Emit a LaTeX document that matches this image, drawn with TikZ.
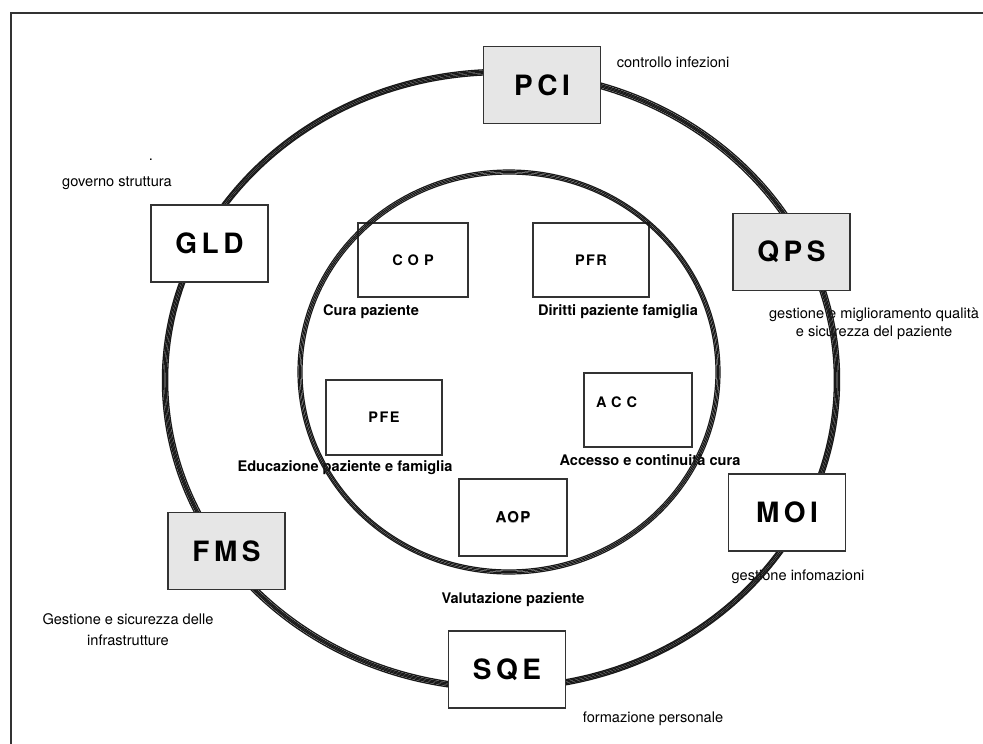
\documentclass[tikz,border=0pt]{standalone}
\usepackage{fontspec}
\setmainfont{TeX Gyre Heros}
\newfontfamily\bigfont[LetterSpace=16]{TeX Gyre Heros}
\newfontfamily\wideletters[LetterSpace=35]{TeX Gyre Heros}
\newfontfamily\narrowletters[LetterSpace=10]{TeX Gyre Heros}
\newcommand{\shadowed}[1]{\makebox[0pt][l]{\raisebox{-1.6pt}{\textcolor{black!30}{#1}}}#1}
\definecolor{boxgrey}{HTML}{E6E6E6}
\definecolor{framegrey}{HTML}{333333}

\begin{document}
\begin{tikzpicture}[x=1pt, y=-1pt,
  bigbox/.style={draw=framegrey, line width=1.2pt, fill=white, minimum width=117pt, minimum height=77pt, inner sep=0pt, font=\bigfont\bfseries\fontsize{28}{30}\selectfont},
  greybox/.style={bigbox, fill=boxgrey},
  smallbox/.style={draw=framegrey, line width=1.2pt, minimum height=74pt, inner sep=0pt, font=\bfseries\fontsize{14.5}{16}\selectfont},
  lab/.style={inner sep=0pt, font=\bfseries\fontsize{14.6}{17}\selectfont},
  note/.style={inner sep=0pt, align=center, font=\fontsize{14.6}{18}\selectfont},
  ring/.style={line width=1.3pt, black!90}]
\useasboundingbox (0,0) rectangle (983,744);
\draw [framegrey, line width=1.3pt] (11,744) -- (11,13) -- (983,13);

% labels
\node[note] (dot) at (151,160) {.};
\node[note] (gldtxt) at (117,183) {governo struttura};
\node[note] (pcitxt) at (673,62) {controllo infezioni};
\node[note] (qpstxt) at (874,324) {gestione e miglioramento qualità\\e sicurezza del paziente};
\node[note] (moitxt) at (798,577) {gestione infomazioni};
\node[note] (sqetxt) at (653,719) {formazione personale};
\node[note, font=\fontsize{14.6}{21}\selectfont] (fmstxt) at (128,630) {Gestione e sicurezza delle\\infrastrutture};
\node[lab] (coptxt) at (371,312) {Cura paziente};
\node[lab] (pfrtxt) at (618,312) {Diritti paziente famiglia};
\node[lab] (pfetxt) at (345,468) {Educazione paziente e famiglia};
\node[lab] (acctxt) at (650,460) {Accesso e continuità cura};
\node[lab] (aoptxt) at (513,600) {Valutazione paziente};

% inner boxes
\node[smallbox, minimum width=110pt, font=\wideletters\bfseries\fontsize{14.5}{16}\selectfont] (cop) at (413,260) {COP};
\node[smallbox, minimum width=116pt, font=\narrowletters\bfseries\fontsize{14.5}{16}\selectfont] (pfr) at (591,260) {PFR};
\node[smallbox, minimum width=116pt, minimum height=75pt, font=\narrowletters\bfseries\fontsize{14.5}{16}\selectfont] (pfe) at (384,417.5) {PFE};
\node[smallbox, text width=84pt, align=left, inner xsep=12pt, text height=10pt, text depth=16pt, font=\wideletters\bfseries\fontsize{14.5}{16}\selectfont] (acc) at (638,410) {ACC};
\node[smallbox, minimum width=108pt, minimum height=77pt, font=\narrowletters\bfseries\fontsize{15}{16}\selectfont] (aop) at (513,517.5) {\shadowed{AOP}};

% rings
\foreach \d/\a in {-2.6/-0.4, -1.3/0.35, 0/0, 1.3/-0.35, 2.6/0.4}
  \draw[ring, rotate around={\a:(501,380)}] (501,380) ellipse [x radius=336+\d, y radius=308+\d];
\foreach \d/\a in {-2/0.4, -0.7/-0.35, 0.7/0.3, 2/-0.4}
  \draw[ring, line width=1.2pt, rotate around={\a:(509,372)}] (509,372) ellipse [x radius=209+\d, y radius=200+\d];

% outer boxes
\node[greybox] (pci) at (542,85) {PCI};
\node[bigbox] (gld) at (209.5,243.5) {GLD};
\node[greybox] (qps) at (791.5,252) {QPS};
\node[greybox] (fms) at (226.5,551) {FMS};
\node[bigbox] (moi) at (787,512.5) {MOI};
\node[bigbox] (sqe) at (507,669.5) {SQE};
\end{tikzpicture}
\end{document}
